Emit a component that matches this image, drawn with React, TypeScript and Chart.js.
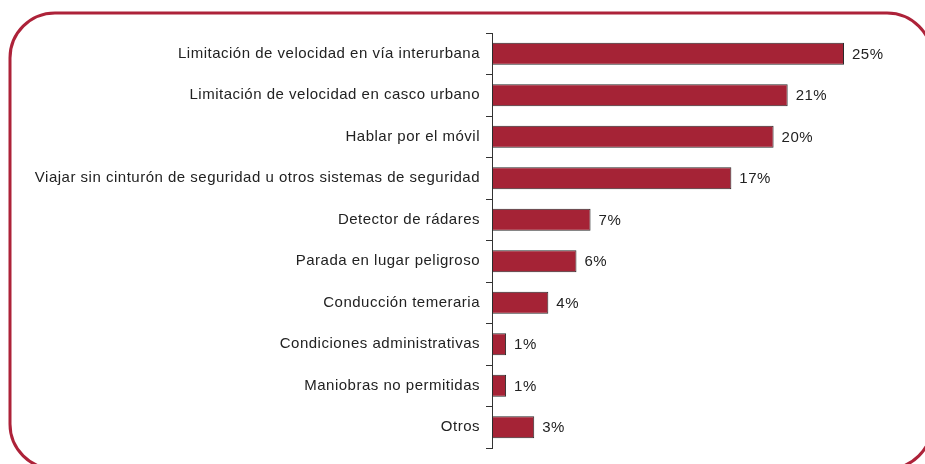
import React, { useEffect, useRef } from "react";
import { Chart, registerables } from "chart.js";

Chart.register(...registerables);

const categories = [
  "Limitación de velocidad en vía interurbana",
  "Limitación de velocidad en casco urbano",
  "Hablar por el móvil",
  "Viajar sin cinturón de seguridad u otros sistemas de seguridad",
  "Detector de rádares",
  "Parada en lugar peligroso",
  "Conducción temeraria",
  "Condiciones administrativas",
  "Maniobras no permitidas",
  "Otros",
];
const values = [25, 21, 20, 17, 7, 6, 4, 1, 1, 3];
const valueLabels = values.map((v) => v + "%");

const FONT = "'Liberation Sans', Arial, Helvetica, sans-serif";

const framePlugin = {
  id: "frame",
  beforeDraw(chart: any) {
    const ctx = chart.ctx;
    ctx.save();
    ctx.fillStyle = "#ffffff";
    ctx.fillRect(0, 0, chart.width, chart.height);
    ctx.strokeStyle = "#ad2239";
    ctx.lineWidth = 3;
    ctx.beginPath();
    (ctx as any).roundRect(10, 13, 922, 456, 45);
    ctx.stroke();
    ctx.restore();
    (ctx as any).letterSpacing = "0.5px";
  },
};

const valueLabelPlugin = {
  id: "valueLabels",
  afterDatasetsDraw(chart: any) {
    const ctx = chart.ctx;
    const meta = chart.getDatasetMeta(0);
    ctx.save();
    (ctx as any).letterSpacing = "0.5px";
    ctx.font = `15px ${FONT}`;
    ctx.fillStyle = "#222222";
    ctx.textAlign = "left";
    ctx.textBaseline = "middle";
    meta.data.forEach((bar: any, i: number) => {
      ctx.fillText(valueLabels[i], bar.x + 8, bar.y + 1);
    });
    ctx.restore();
  },
};

export default function App() {
  const canvasRef = useRef<HTMLCanvasElement | null>(null);

  useEffect(() => {
    if (!canvasRef.current) return;
    const chart = new Chart(canvasRef.current, {
      type: "bar",
      data: {
        labels: categories,
        datasets: [
          {
            data: values,
            backgroundColor: "#a52336",
            borderColor: "#2a2a2a",
            borderWidth: 1,
            borderSkipped: false,
            categoryPercentage: 1,
            barPercentage: 0.53,
          },
        ],
      },
      options: {
        indexAxis: "y",
        animation: false,
        responsive: false,
        maintainAspectRatio: false,
        layout: { padding: { top: 33, bottom: 16, left: 0, right: 925 - 844 } },
        plugins: {
          legend: { display: false },
          tooltip: { enabled: false },
        },
        scales: {
          x: {
            display: false,
            min: 0,
            max: 25,
          },
          y: {
            afterFit(scale: any) {
              scale.width = 492;
            },
            grid: {
              display: true,
              drawOnChartArea: false,
              drawTicks: true,
              tickLength: 6,
              tickColor: "#333333",
              offset: true,
            },
            border: { display: true, color: "#333333", width: 1 },
            ticks: {
              color: "#222222",
              padding: 6,
              font: { family: FONT, size: 15 },
            },
          },
        },
      },
      plugins: [framePlugin, valueLabelPlugin],
    });
    return () => chart.destroy();
  }, []);

  return (
    <div style={{ position: "absolute", left: 0, top: 0, width: 925, height: 464, overflow: "hidden" }}>
      <canvas ref={canvasRef} width={925} height={464} style={{ width: 925, height: 464 }} />
    </div>
  );
}
